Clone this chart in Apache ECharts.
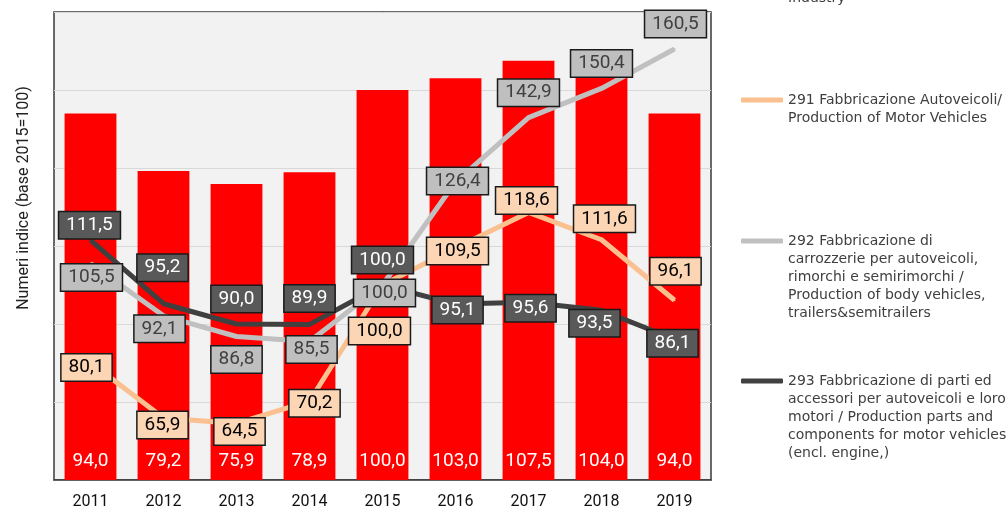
<!DOCTYPE html>
<html>
<head>
<meta charset="utf-8">
<script src="https://cdn.jsdelivr.net/npm/echarts@6/dist/echarts.min.js"></script>
<style>
  html, body { margin: 0; padding: 0; background: #fff; }
  #main { width: 1007px; height: 510px; }
</style>
</head>
<body>
<div id="main"></div>
<script>
// values
var years = ['2011', '2012', '2013', '2014', '2015', '2016', '2017', '2018', '2019'];
var industry = [94.0, 79.2, 75.9, 78.9, 100.0, 103.0, 107.5, 104.0, 94.0];
var autoveicoli = [80.1, 65.9, 64.5, 70.2, 100.0, 109.5, 118.6, 111.6, 96.1];
var carrozzerie = [105.5, 92.1, 86.8, 85.5, 100.0, 126.4, 142.9, 150.4, 160.5];
var parti = [111.5, 95.2, 90.0, 89.9, 100.0, 95.1, 95.6, 93.5, 86.1];

var names = [
  '29 Fabbricazione di\nautoveicoli, rimorchi e\nsemirimorchi / Automotive\nIndustry',
  '291 Fabbricazione Autoveicoli/\nProduction of Motor Vehicles',
  '292 Fabbricazione di\ncarrozzerie per autoveicoli,\nrimorchi e semirimorchi /\nProduction of body vehicles,\ntrailers&semitrailers',
  '293 Fabbricazione di parti ed\naccessori per autoveicoli e loro\nmotori / Production parts and\ncomponents for motor vehicles\n(encl. engine,)'
];

// where each label box sits relative to its point (layout only)
var nudge291 = [[-4, 5], [-1, 7], [3, 8], [5, 2], [-3, 46], [2, 3], [-2, -12], [3, -21], [1, -29]];
var nudge292 = [[1, 14], [-4, 13], [0, 23], [2, 8], [2, 8], [2, -1], [0, -25], [0, -25], [1, -25]];
var nudge293 = [[-1, -15], [-1, -36], [0, -25], [0, -26], [0, -25], [2, 6], [2, 6], [-7, 13], [-2, 4]];

var chart = echarts.init(document.getElementById('main'));

function fmt(v) {
  return v.toFixed(1).replace('.', ',');
}

function withNudge(values, nudge) {
  return values.map(function (v, i) {
    return { value: v, label: { offset: nudge[i] } };
  });
}

function lineSeries(name, values, nudge, color, boxColor, textColor) {
  return {
    name: name,
    type: 'line',
    yAxisIndex: 1,
    data: withNudge(values, nudge),
    symbol: 'circle',
    symbolSize: 2,
    showSymbol: true,
    itemStyle: { color: color },
    lineStyle: { color: color, width: 5 },
    label: {
      show: true,
      position: 'inside',
      formatter: function (p) { return fmt(p.value); },
      fontFamily: 'Roboto',
      fontSize: 19,
      lineHeight: 21,
      color: textColor,
      backgroundColor: boxColor,
      borderColor: '#1a1a1a',
      borderWidth: 1.5,
      padding: [3, 7, 2, 7]
    }
  };
}

// one legend per entry; blank lines on top keep the icon level with the first text line
var L = 18.2;
function legendAt(name, firstLineY) {
  var lines = name.split('\n').length;
  return {
    data: [name],
    left: 741,
    top: firstLineY - (2 * lines - 1) * L / 2,
    padding: 0,
    orient: 'vertical',
    icon: 'roundRect',
    itemWidth: 42,
    itemHeight: 5,
    formatter: function (n) {
      return new Array(lines).join('\n') + n;
    },
    textStyle: {
      fontFamily: 'DejaVu Sans',
      fontSize: 14,
      lineHeight: L,
      color: '#404040'
    }
  };
}

var option = {
  backgroundColor: '#ffffff',
  animation: false,
  legend: [
    legendAt(names[0], -1.5 - 3 * L),
    legendAt(names[1], 100),
    legendAt(names[2], 241),
    legendAt(names[3], 381)
  ],
  grid: {
    left: 54,
    right: 296,
    top: 12,
    bottom: 30,
    show: true,
    backgroundColor: '#F2F2F2',
    borderColor: '#3a3a3a',
    borderWidth: 1.5
  },
  xAxis: {
    type: 'category',
    data: years,
    axisTick: { show: false },
    axisLine: { lineStyle: { color: '#3a3a3a', width: 1.5 } },
    axisLabel: {
      fontFamily: 'Roboto',
      fontSize: 16,
      color: '#111',
      margin: 14
    }
  },
  yAxis: [{
    type: 'value',
    min: 0,
    max: 120,
    interval: 20,
    name: 'Numeri indice (base 2015=100)',
    nameLocation: 'middle',
    nameGap: 22,
    nameTextStyle: {
      fontFamily: 'Roboto',
      fontSize: 16,
      color: '#222',
      padding: [0, 0, 0, 96]
    },
    axisLabel: { show: false },
    axisTick: { show: false },
    axisLine: { show: false },
    splitLine: { lineStyle: { color: '#D9D9D9', width: 1 } }
  }, {
    type: 'value',
    min: 50,
    max: 170,
    interval: 20,
    show: false,
    splitLine: { show: false }
  }],
  series: [
    {
      name: names[0],
      type: 'bar',
      data: industry,
      barWidth: '71%',
      itemStyle: { color: '#FF0000' },
      label: {
        show: true,
        position: 'insideBottom',
        distance: 9,
        formatter: function (p) { return fmt(p.value); },
        fontFamily: 'Roboto',
        fontSize: 19,
        color: '#ffffff'
      }
    },
    lineSeries(names[1], autoveicoli, nudge291, '#FAC090', '#FCD5B5', '#000000'),
    lineSeries(names[2], carrozzerie, nudge292, '#C0C0C0', '#BFBFBF', '#404040'),
    lineSeries(names[3], parti, nudge293, '#404040', '#595959', '#ffffff')
  ]
};

chart.setOption(option);
</script>
</body>
</html>
